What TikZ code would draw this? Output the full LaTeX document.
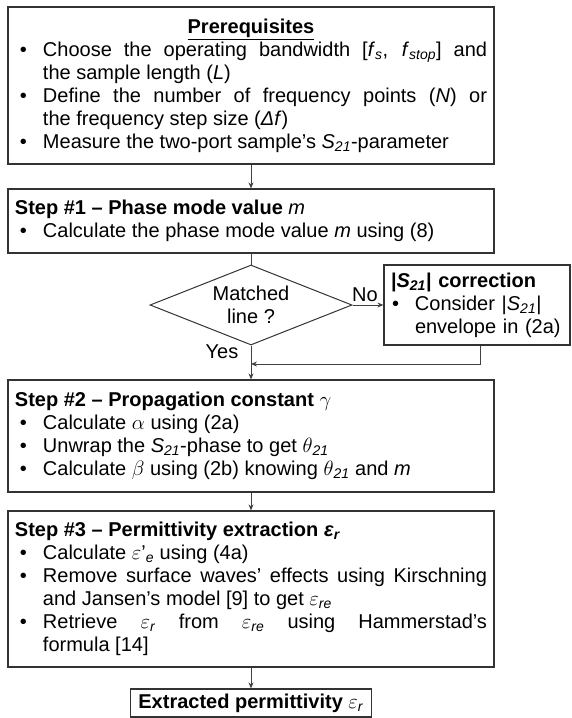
\documentclass[tikz,border=0pt]{standalone}
\usepackage{fontspec}
\setmainfont{Liberation Sans}
\usetikzlibrary{shapes.geometric, arrows.meta}
\setlength{\parindent}{0pt}
\tikzset{
  stepbox/.style={
    draw=black!80, line width=1.2pt,
    text width=472pt, inner xsep=7pt, inner ysep=0pt,
    align=justify
  },
  sidebox/.style={
    draw=black!80, line width=1.2pt,
    text width=172pt, inner xsep=7pt, inner ysep=0pt,
    minimum height=80pt, align=left
  },
  endbox/.style={
    draw=black!80, line width=1.2pt,
    minimum height=28pt, inner xsep=8pt, inner ysep=0pt
  },
  decision/.style={
    draw=black!80, line width=1pt, diamond, aspect=2.5,
    minimum width=202pt, minimum height=80pt, inner sep=0pt,
    align=center
  },
  flow/.style={draw=black!75, line width=0.8pt, -{Stealth[length=6pt,width=5pt]}},
  plain/.style={draw=black!75, line width=0.8pt},
}
\newcommand{\ssub}[1]{\textsubscript{\textit{#1}}}
% bullet, justified first line, indented next line
\newcommand{\bitem}[1][28pt]{\par\noindent\makebox[#1][l]{\hspace{\dimexpr#1-23pt\relax}\textbullet}}
\newcommand{\bfull}[1]{\makebox[444pt][s]{#1}}
\newcommand{\bnext}[1][28pt]{\par\noindent\hspace*{#1}}

\begin{document}
\begin{tikzpicture}[x=1pt, y=-1pt, font=\fontsize{20}{23}\selectfont]
\useasboundingbox (0,0) rectangle (572,718);

\node[stepbox, minimum height=157pt] (pre) at (251,85.5)
{\makebox[\hsize]{\textbf{\underline{Prerequisites}}}
\bitem\bfull{Choose the operating bandwidth [\textit{f}\ssub{s}, \textit{f}\ssub{stop}] and}
\bnext the sample length (\textit{L})
\bitem\bfull{Define the number of frequency points (\textit{N}) or}
\bnext the frequency step size (\textit{Δf})
\bitem Measure the two-port sample’s \textit{S}\ssub{21}-parameter};

\node[stepbox, minimum height=64pt] (step1) at (251,221)
{\textbf{Step \#1 – Phase mode value} \textit{m}
\bitem Calculate the phase mode value \textit{m} using (8)};

\node[decision] (match) at (251,305) {Matched\\line ?};

\node[sidebox] (corr) at (477,305)
{\textbf{|\textit{S}\ssub{21}| correction}
\bitem[24pt]\mbox{Consider |\textit{S}\ssub{21}|}
\bnext[24pt]\mbox{envelope in (2a)}};

\node[stepbox, minimum height=112pt] (step2) at (251,436)
{\textbf{Step \#2 – Propagation constant} $\gamma$
\bitem Calculate $\alpha$ using (2a)
\bitem Unwrap the \textit{S}\ssub{21}-phase to get $\theta$\ssub{21}
\bitem Calculate $\beta$ using (2b) knowing $\theta$\ssub{21} and \textit{m}};

\node[stepbox, minimum height=156pt] (step3) at (251,589)
{\textbf{Step \#3 – Permittivity extraction \textit{ε}\ssub{r}}
\bitem Calculate $\varepsilon$’\ssub{e} using (4a)
\bitem\bfull{Remove surface waves’ effects using Kirschning}
\bnext and Jansen’s model [9] to get $\varepsilon$\ssub{re}
\bitem\bfull{Retrieve $\varepsilon$\ssub{r} from $\varepsilon$\ssub{re} using Hammerstad’s}
\bnext formula [14]};

\node[endbox] (result) at (251,703) {\textbf{Extracted permittivity} $\varepsilon$\ssub{r}};

\coordinate (fb) at (480,364);

\draw[flow] (pre) -- (step1);
\draw[plain] (step1) -- (match);
\draw[flow] (match) -- node[above, pos=0.4] {No} (corr);
\draw[flow] (match) -- node[left=9pt, pos=0.17] {Yes} (step2);
\draw[flow] (corr.south -| fb) -- (fb) -- (fb -| match.south);
\draw[flow] (step2) -- (step3);
\draw[flow] (step3) -- (result);

\end{tikzpicture}
\end{document}
